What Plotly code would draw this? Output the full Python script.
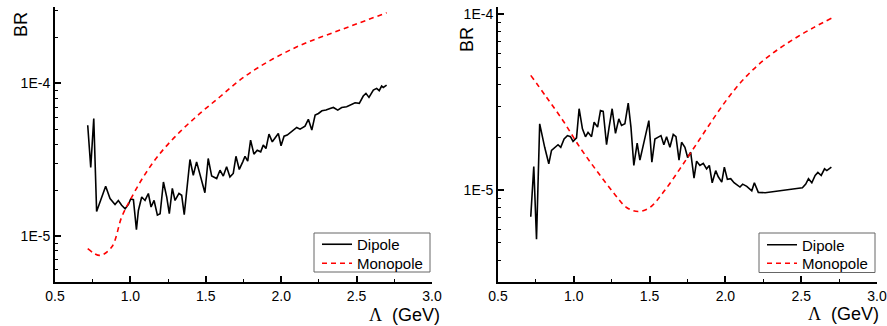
import plotly.graph_objects as go

# ---------------- data ----------------
# Left panel, dipole
lam_dip_L = [0.717, 0.737, 0.757, 0.776, 0.836, 0.865, 0.898, 0.920, 0.942, 0.965,
             0.987, 1.002, 1.020, 1.040, 1.053, 1.075, 1.097, 1.119, 1.137, 1.157,
             1.179, 1.197, 1.219, 1.241, 1.258, 1.278, 1.296, 1.322, 1.340, 1.357,
             1.395, 1.417, 1.439, 1.494, 1.516, 1.539, 1.572, 1.594, 1.616, 1.638,
             1.660, 1.682, 1.700, 1.722, 1.745, 1.760, 1.778, 1.797, 1.819, 1.841,
             1.864, 1.881, 1.899, 1.919, 1.941, 1.981, 1.999, 2.019, 2.040, 2.070,
             2.103, 2.125, 2.158, 2.180, 2.203, 2.225, 2.247, 2.270, 2.297, 2.324,
             2.346, 2.375, 2.401, 2.434, 2.467, 2.490, 2.518, 2.544, 2.562, 2.582,
             2.611, 2.633, 2.650, 2.666, 2.677, 2.699]
br_dip_L = [5.32e-5, 2.81e-5, 5.89e-5, 1.45e-5, 2.12e-5, 1.76e-5, 1.61e-5, 1.71e-5, 1.59e-5, 1.51e-5,
            1.61e-5, 1.75e-5, 1.73e-5, 1.10e-5, 1.47e-5, 1.80e-5, 1.71e-5, 1.90e-5, 1.55e-5, 1.71e-5,
            1.37e-5, 1.40e-5, 2.26e-5, 1.80e-5, 1.40e-5, 2.05e-5, 1.71e-5, 1.90e-5, 1.85e-5, 1.38e-5,
            3.17e-5, 2.50e-5, 3.06e-5, 1.92e-5, 3.22e-5, 2.47e-5, 2.38e-5, 2.70e-5, 2.47e-5, 2.84e-5,
            2.44e-5, 2.57e-5, 3.33e-5, 2.73e-5, 3.06e-5, 3.33e-5, 3.09e-5, 4.25e-5, 3.44e-5, 3.65e-5,
            3.56e-5, 3.94e-5, 3.74e-5, 4.65e-5, 4.14e-5, 4.70e-5, 3.90e-5, 4.51e-5, 4.58e-5, 4.86e-5,
            5.14e-5, 5.01e-5, 5.25e-5, 5.81e-5, 4.94e-5, 6.19e-5, 6.35e-5, 6.61e-5, 6.68e-5, 6.85e-5,
            6.95e-5, 6.68e-5, 6.95e-5, 7.02e-5, 7.31e-5, 7.46e-5, 7.39e-5, 8.26e-5, 8.60e-5, 8.09e-5,
            9.04e-5, 9.27e-5, 8.95e-5, 9.60e-5, 9.40e-5, 9.75e-5]

# Left panel, monopole
lam_mono_L = [0.717, 0.798, 0.876, 0.942, 0.997, 1.086, 1.196, 1.328, 1.461, 1.594,
              1.726, 1.859, 2.014, 2.169, 2.346, 2.523, 2.699]
br_mono_L = [8.26e-6, 7.47e-6, 8.47e-6, 1.33e-5, 1.71e-5, 2.44e-5, 3.47e-5, 4.81e-5, 6.35e-5, 8.17e-5,
             1.05e-4, 1.29e-4, 1.57e-4, 1.85e-4, 2.15e-4, 2.50e-4, 2.90e-4]

# Right panel, dipole
lam_dip_R = [0.716, 0.736, 0.754, 0.775, 0.808, 0.835, 0.853, 0.875, 0.896, 0.914,
             0.936, 0.958, 0.978, 0.995, 1.018, 1.035, 1.057, 1.077, 1.094, 1.117,
             1.134, 1.157, 1.176, 1.194, 1.216, 1.233, 1.253, 1.275, 1.297, 1.315,
             1.337, 1.359, 1.377, 1.396, 1.418, 1.436, 1.495, 1.515, 1.535, 1.557,
             1.575, 1.594, 1.612, 1.634, 1.656, 1.674, 1.694, 1.711, 1.733, 1.751,
             1.771, 1.793, 1.810, 1.832, 1.854, 1.876, 1.894, 1.913, 1.936, 1.953,
             1.976, 1.993, 2.013, 2.035, 2.057, 2.096, 2.114, 2.141, 2.174, 2.191,
             2.217, 2.262, 2.316, 2.361, 2.427, 2.471, 2.508, 2.530, 2.548, 2.570,
             2.592, 2.610, 2.632, 2.654, 2.669, 2.699]
br_dip_R = [7.05e-6, 1.36e-5, 5.25e-6, 2.38e-5, 1.75e-5, 1.41e-5, 1.68e-5, 1.75e-5, 1.81e-5, 1.75e-5,
            1.95e-5, 2.04e-5, 2.01e-5, 1.89e-5, 1.98e-5, 2.90e-5, 2.23e-5, 2.01e-5, 2.13e-5, 2.01e-5,
            2.43e-5, 2.28e-5, 2.83e-5, 2.80e-5, 1.81e-5, 2.28e-5, 2.90e-5, 2.10e-5, 2.54e-5, 2.33e-5,
            2.38e-5, 3.12e-5, 2.28e-5, 1.38e-5, 1.85e-5, 1.48e-5, 2.48e-5, 1.44e-5, 1.95e-5, 2.00e-5,
            2.04e-5, 1.81e-5, 2.01e-5, 1.75e-5, 2.07e-5, 2.01e-5, 1.48e-5, 1.87e-5, 1.75e-5, 1.53e-5,
            1.64e-5, 1.17e-5, 1.46e-5, 1.38e-5, 1.42e-5, 1.32e-5, 1.38e-5, 1.10e-5, 1.29e-5, 1.19e-5,
            1.11e-5, 1.35e-5, 1.15e-5, 1.16e-5, 1.10e-5, 1.04e-5, 1.08e-5, 1.05e-5, 9.90e-6, 1.10e-5,
            9.70e-6, 9.66e-6, 9.78e-6, 9.90e-6, 1.00e-5, 1.02e-5, 1.03e-5, 1.08e-5, 1.16e-5, 1.10e-5,
            1.21e-5, 1.26e-5, 1.21e-5, 1.32e-5, 1.29e-5, 1.35e-5]

# Right panel, monopole
lam_mono_R = [0.716, 0.820, 0.929, 1.040, 1.150, 1.260, 1.348, 1.425, 1.502, 1.590,
              1.700, 1.810, 1.920, 2.030, 2.141, 2.250, 2.361, 2.471, 2.581, 2.699]
br_mono_R = [4.49e-5, 3.37e-5, 2.48e-5, 1.75e-5, 1.29e-5, 9.70e-6, 7.96e-6, 7.55e-6, 7.96e-6, 9.70e-6,
             1.32e-5, 1.83e-5, 2.54e-5, 3.45e-5, 4.46e-5, 5.45e-5, 6.43e-5, 7.40e-5, 8.39e-5, 9.48e-5]

x_ticks = [0.5, 1.0, 1.5, 2.0, 2.5, 3.0]
x_ticktext = ["0.5", "1.0", "1.5", "2.0", "2.5", "3.0"]
x_minor = [0.75, 1.25, 1.75, 2.25, 2.75]
y_ticks = [1e-5, 1e-4]
y_ticktext = ["1E-5", "1E-4"]
y_minor = [m * 10.0 ** e for e in (-6, -5, -4) for m in range(2, 10)]

# ---------------- figure ----------------
W, H = 887, 326
FONT = "Liberation Sans, Arial, sans-serif"


def px_x(p):
    return p / W


def px_y(p):
    return 1 - p / H


fig = go.Figure()
panels = [
    (lam_dip_L, br_dip_L, lam_mono_L, br_mono_L, "x", "y", "legend", "legend2"),
    (lam_dip_R, br_dip_R, lam_mono_R, br_mono_R, "x2", "y2", "legend3", "legend4"),
]
for (ld, bd, lm, bm, xa, ya, lg1, lg2) in panels:
    fig.add_trace(go.Scatter(x=ld, y=bd, mode="lines", name="Dipole",
                             line=dict(color="black", width=1.6),
                             xaxis=xa, yaxis=ya, legend=lg1))
    fig.add_trace(go.Scatter(x=lm, y=bm, mode="lines", name="Monopole",
                             line=dict(color="#ff0000", width=1.6, dash="5px,4px", shape="spline"),
                             xaxis=xa, yaxis=ya, legend=lg2))

common_x = dict(range=[0.5, 3.0], tickmode="array", tickvals=x_ticks, ticktext=x_ticktext,
                ticks="inside", ticklen=6, tickwidth=1.5, tickcolor="black", automargin=False,
                showline=True, linecolor="black", linewidth=2, showgrid=False, zeroline=False,
                tickfont=dict(family=FONT, size=14, color="black"),
                minor=dict(tickmode="array", tickvals=x_minor, ticks="inside", ticklen=3,
                           tickwidth=1.2, tickcolor="black", showgrid=False))
common_y = dict(type="log", tickmode="array", tickvals=y_ticks, ticktext=y_ticktext,
                ticks="inside", ticklen=6, tickwidth=1.5, tickcolor="black", automargin=False,
                showline=True, linecolor="black", linewidth=2, showgrid=False, zeroline=False,
                tickfont=dict(family=FONT, size=14, color="black"),
                minor=dict(tickmode="array", tickvals=y_minor, ticks="inside", ticklen=3,
                           tickwidth=1.2, tickcolor="black", showgrid=False))

LEG = dict(xanchor="left", yanchor="middle", borderwidth=0, bgcolor="rgba(0,0,0,0)",
           font=dict(family=FONT, size=15, color="black"), itemwidth=30)

fig.update_layout(
    width=W, height=H, autosize=False,
    margin=dict(l=0, r=0, t=0, b=0, pad=0, autoexpand=False),
    paper_bgcolor="white", plot_bgcolor="white",
    font=dict(family=FONT, size=14, color="black"),
    xaxis=dict(domain=[px_x(55), px_x(432)], anchor="y", **common_x),
    yaxis=dict(domain=[px_y(282), px_y(7)], anchor="x", range=[-5.301, -3.5], **common_y),
    xaxis2=dict(domain=[px_x(498), px_x(877)], anchor="y2", **common_x),
    yaxis2=dict(domain=[px_y(282), px_y(7)], anchor="x2", range=[-5.523, -3.959], **common_y),
    legend=dict(x=px_x(317), y=px_y(244.5), **LEG),
    legend2=dict(x=px_x(317), y=px_y(263.5), **LEG),
    legend3=dict(x=px_x(762), y=px_y(245), **LEG),
    legend4=dict(x=px_x(762), y=px_y(263.5), **LEG),
    showlegend=True,
)

# legend frames
for (x0, x1, y0, y1) in [(314, 430, 233, 272), (759, 875, 233, 272.5)]:
    fig.add_shape(type="rect", xref="paper", yref="paper",
                  x0=px_x(x0), x1=px_x(x1), y0=px_y(y1), y1=px_y(y0),
                  line=dict(color="#666666", width=1), fillcolor="white", layer="above")

# axis titles as annotations
for (bx, by, lx, ly) in [(20.5, 24.5, 442, 314.5), (467.5, 39.5, 881, 314)]:
    fig.add_annotation(text="BR", x=px_x(bx), y=px_y(by), xref="paper", yref="paper",
                       showarrow=False, textangle=-90, xanchor="center", yanchor="middle",
                       font=dict(family=FONT, size=18, color="black"))
    fig.add_annotation(text="<span style='font-family:Liberation Serif'>Λ</span>  (GeV)",
                       x=px_x(lx), y=px_y(ly), xref="paper", yref="paper",
                       showarrow=False, xanchor="right", yanchor="middle",
                       font=dict(family=FONT, size=18, color="black"))

fig.write_html("out.html", config={"displayModeBar": False},
               post_script="document.body.style.margin='0';document.body.style.overflow='hidden';")
